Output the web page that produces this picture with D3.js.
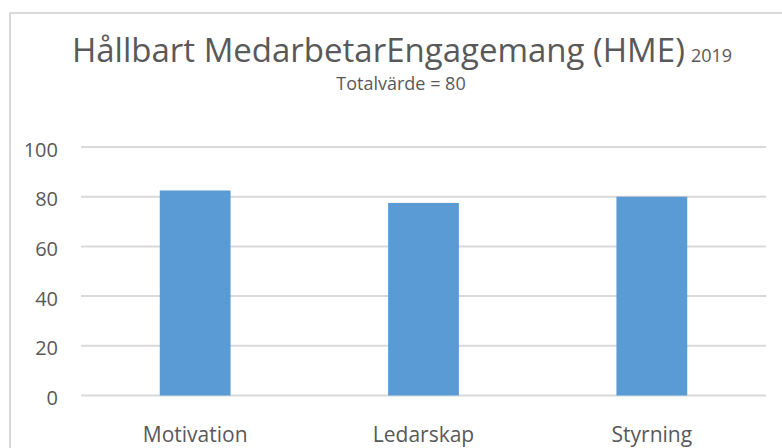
<!DOCTYPE html>
<html>
<head>
<meta charset="utf-8">
<script src="https://cdn.jsdelivr.net/npm/d3@7"></script>
<style>
  body { margin: 0; background: #fff; }
  svg { display: block; }
</style>
</head>
<body>
<div id="my_dataviz"></div>
<script>
// data
var categories = ["Motivation", "Ledarskap", "Styrning"];
var values = [82.5, 77.5, 80];
var yTicks = [0, 20, 40, 60, 80, 100];
var titleText = "Hållbart MedarbetarEngagemang (HME)";
var titleYear = "2019";
var subtitleText = "Totalvärde = 80";

var W = 782, H = 448;
var margin = {top: 147, right: 16, bottom: 52.5, left: 81},
    width = W - margin.left - margin.right,
    height = H - margin.top - margin.bottom;

var svg0 = d3.select("#my_dataviz")
  .append("svg")
    .attr("width", W)
    .attr("height", H);

svg0.append("rect")
    .attr("width", W)
    .attr("height", H)
    .attr("fill", "#ffffff");

// chart frame (runs off the right and bottom edges)
svg0.append("rect")
    .attr("x", 10)
    .attr("y", 13)
    .attr("width", 800)
    .attr("height", 460)
    .attr("fill", "none")
    .attr("stroke", "#d9d9d9")
    .attr("stroke-width", 2);

// title
var title = svg0.append("text")
    .attr("x", 402)
    .attr("y", 62)
    .attr("text-anchor", "middle")
    .style("font-family", "'Open Sans', sans-serif")
    .style("fill", "#595959");
title.append("tspan")
    .style("font-size", "33px")
    .text(titleText);
title.append("tspan")
    .attr("dx", 6)
    .style("font-size", "18px")
    .text(titleYear);

svg0.append("text")
    .attr("x", 401)
    .attr("y", 90)
    .attr("text-anchor", "middle")
    .style("font-family", "'Open Sans', sans-serif")
    .style("font-size", "18px")
    .style("fill", "#595959")
    .text(subtitleText);

var svg = svg0.append("g")
    .attr("transform", "translate(" + margin.left + "," + margin.top + ")");

var x = d3.scaleBand()
    .domain(categories)
    .range([0, width])
    .padding(0);

var y = d3.scaleLinear()
    .domain([0, 100])
    .range([height, 0]);

// gridlines
svg.append("g")
  .selectAll("line")
  .data(yTicks)
  .enter()
  .append("line")
    .attr("x1", 0)
    .attr("x2", width)
    .attr("y1", function(d) { return y(d) })
    .attr("y2", function(d) { return y(d) })
    .attr("stroke", "#d9d9d9")
    .attr("stroke-width", 2);

// y axis labels
var yAxis = svg.append("g")
    .call(d3.axisLeft(y).tickValues(yTicks).tickSize(0).tickPadding(23));
yAxis.select(".domain").remove();
yAxis.selectAll("text")
    .attr("dy", "0.45em")
    .style("font-family", "'Open Sans', sans-serif")
    .style("font-size", "20px")
    .style("fill", "#595959");

// bars
var barW = x.bandwidth() * 0.31;
svg.append("g")
  .selectAll("rect")
  .data(values)
  .enter()
  .append("rect")
    .attr("x", function(d, i) { return x(categories[i]) + x.bandwidth() / 2 - barW / 2 })
    .attr("y", function(d) { return y(d) })
    .attr("width", barW)
    .attr("height", function(d) { return y(0) - y(d) })
    .attr("fill", "#5b9bd5");

// x axis labels
var xAxis = svg.append("g")
    .attr("transform", "translate(0," + height + ")")
    .call(d3.axisBottom(x).tickSize(0).tickPadding(0));
xAxis.select(".domain").remove();
xAxis.selectAll("text")
    .attr("dy", 0)
    .attr("y", 46)
    .style("font-family", "'Open Sans', sans-serif")
    .style("font-size", "21px")
    .style("fill", "#595959");
</script>
</body>
</html>
